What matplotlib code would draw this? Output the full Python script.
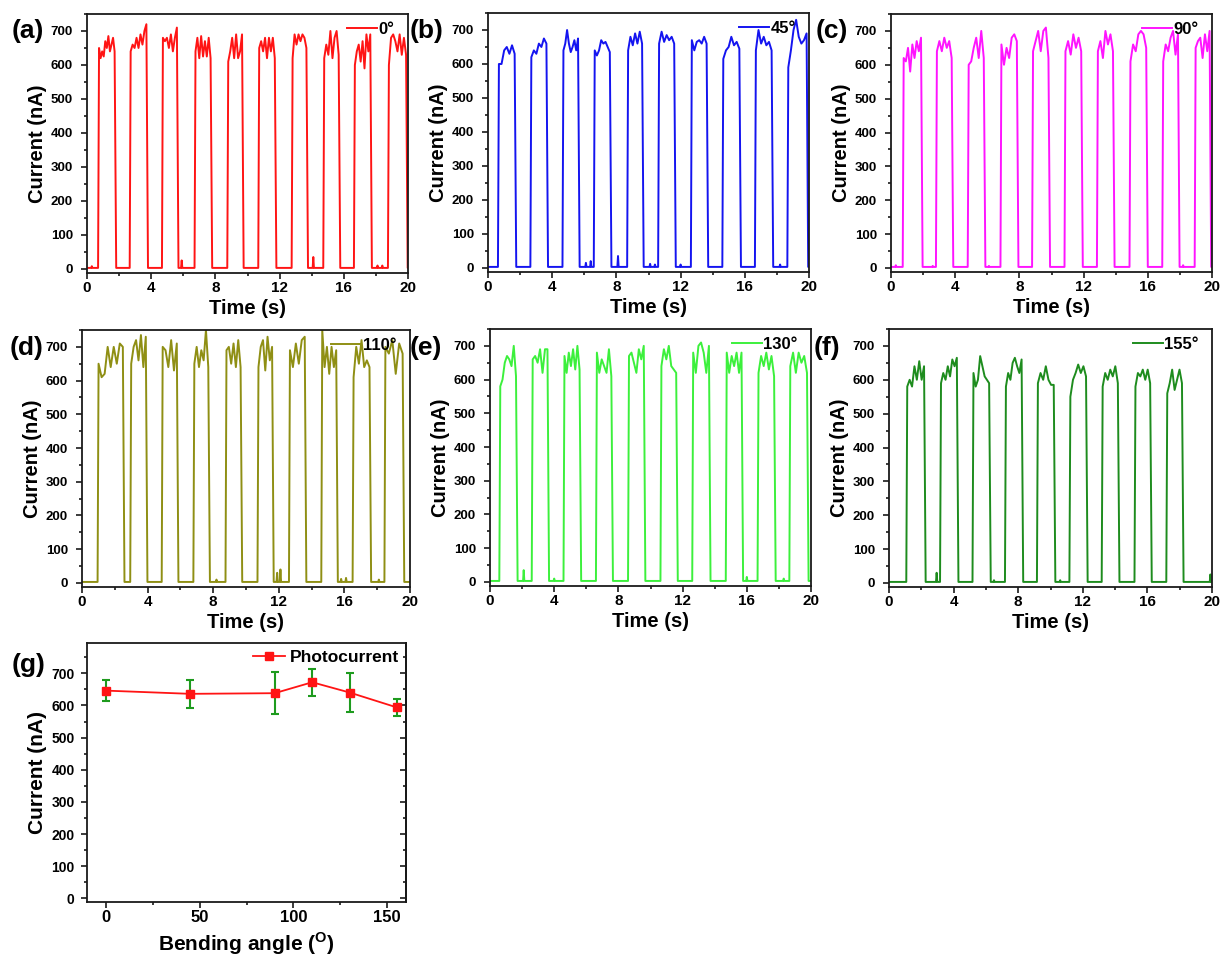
import numpy as np
import matplotlib
matplotlib.use("Agg")
import matplotlib.pyplot as plt
from matplotlib.ticker import MultipleLocator

plt.rcParams['font.family'] = ['Liberation Sans', 'DejaVu Sans']
plt.rcParams['font.weight'] = 'bold'
plt.rcParams['axes.labelweight'] = 'bold'
plt.rcParams['mathtext.fontset'] = 'custom'
plt.rcParams['mathtext.bf'] = 'Liberation Sans:bold'
plt.rcParams['mathtext.rm'] = 'Liberation Sans:bold'

# ---- data ----
# pulse start / end times (s), plateau readings (nA), baseline blips (t, nA)
on_a = [0.69, 2.66, 4.67, 6.70, 8.74, 10.67, 12.75, 14.72, 16.63, 18.75]
off_a = [1.72, 3.70, 5.60, 7.70, 9.66, 11.70, 13.67, 15.68, 17.65, 19.88]
top_a = [[650, 620, 640, 625, 670, 650, 685, 640, 660, 680, 640],
         [640, 660, 650, 680, 650, 690, 660, 700, 720],
         [680, 670, 680, 650, 690, 640, 680, 710],
         [640, 680, 620, 685, 625, 670, 625, 680, 620],
         [610, 640, 680, 620, 690, 620, 640, 690],
         [650, 670, 640, 680, 620, 680, 640, 680, 620],
         [620, 690, 660, 690, 670, 690, 680, 650],
         [620, 660, 630, 700, 620, 680, 700, 630],
         [600, 640, 660, 610, 670, 590, 690, 640, 690],
         [600, 680, 690, 670, 640, 690, 630, 680, 630]]
blip_a = [(0.3, 8), (5.9, 25), (14.1, 35), (18.1, 10), (18.4, 10)]

on_b = [0.62, 2.64, 4.64, 6.59, 8.67, 10.60, 12.64, 14.60, 16.63, 18.65]
off_b = [1.66, 3.64, 5.61, 7.59, 9.60, 11.60, 13.62, 15.66, 17.67, 19.85]
top_b = [[600, 600, 640, 650, 630, 655, 630],
         [620, 640, 630, 660, 650, 675, 660],
         [640, 660, 700, 660, 635, 650, 670, 640, 675],
         [640, 625, 640, 670, 660, 665, 650, 635],
         [640, 680, 655, 690, 660, 695, 660],
         [660, 695, 665, 685, 670, 680, 660],
         [670, 640, 665, 670, 660, 680, 660],
         [615, 640, 650, 680, 655, 665, 645],
         [640, 700, 660, 680, 655, 665, 640],
         [590, 640, 700, 730, 680, 660, 670, 690]]
blip_b = [(6.1, 15), (6.4, 20), (8.1, 35), (10.1, 12), (10.4, 10), (12.0, 10), (18.2, 10)]

on_c = [0.73, 2.80, 4.78, 6.82, 8.79, 10.81, 12.83, 14.86, 16.90, 18.92]
off_c = [1.87, 3.78, 5.78, 7.84, 9.81, 11.85, 13.83, 15.90, 17.88, 19.85]
top_c = [[620, 610, 650, 580, 660, 620, 670, 640, 680],
         [640, 670, 640, 680, 650, 670, 620],
         [600, 610, 650, 680, 620, 700, 620],
         [660, 600, 650, 620, 680, 690, 670],
         [640, 670, 700, 640, 700, 710, 620],
         [640, 670, 630, 690, 650, 680, 640],
         [640, 670, 620, 700, 660, 690, 640],
         [610, 660, 640, 690, 700, 690, 650],
         [610, 660, 640, 680, 700, 630, 690],
         [650, 670, 680, 620, 690, 640, 700]]
blip_c = [(0.3, 8), (2.6, 6), (6.1, 6), (18.2, 8)]

on_d = [0.95, 2.94, 4.86, 6.79, 8.75, 10.70, 12.62, 14.59, 16.50, 18.44]
off_d = [2.49, 3.89, 5.78, 7.70, 9.67, 11.59, 13.58, 15.50, 17.53, 19.55]
top_d = [[650, 610, 620, 700, 640, 700, 650, 710, 700],
         [650, 700, 720, 660, 735, 640, 730],
         [700, 690, 640, 720, 630, 710],
         [650, 700, 640, 690, 660, 750, 640],
         [690, 700, 650, 710, 640, 720, 640],
         [640, 700, 720, 630, 730, 660, 700],
         [690, 640, 710, 650, 720, 730],
         [750, 640, 700, 620, 700, 640, 690],
         [610, 700, 650, 720, 640, 660, 640],
         [700, 680, 720, 620, 710, 680]]
blip_d = [(8.2, 10), (11.9, 30), (12.1, 40), (15.8, 12), (16.1, 15), (18.1, 10)]

on_e = [0.58, 2.60, 4.58, 6.60, 8.60, 10.62, 12.60, 14.69, 16.67, 18.65]
off_e = [1.62, 3.58, 5.58, 7.56, 9.58, 11.60, 13.64, 15.67, 17.70, 19.75]
top_e = [[580, 600, 650, 670, 660, 640, 700, 610],
         [660, 670, 650, 690, 620, 690, 690],
         [670, 620, 680, 640, 690, 630, 700, 630],
         [680, 620, 660, 640, 620, 690, 610],
         [670, 680, 650, 620, 690, 660, 700],
         [640, 690, 660, 700, 640, 630, 620],
         [680, 620, 700, 710, 680, 620, 700],
         [680, 620, 670, 640, 680, 620, 680],
         [620, 670, 640, 680, 630, 670, 610],
         [640, 680, 620, 680, 650, 670, 620]]
blip_e = [(2.1, 35), (4.0, 10), (16.0, 15), (18.3, 10)]

on_f = [1.07, 3.16, 5.17, 7.18, 9.16, 11.17, 13.17, 15.20, 17.17]
off_f = [2.17, 4.20, 6.20, 8.21, 10.20, 12.20, 14.17, 16.17, 18.14]
top_f = [[580, 600, 580, 640, 600, 655, 600, 640],
         [590, 620, 600, 640, 610, 660, 640, 665],
         [620, 580, 600, 670, 640, 610, 600, 590],
         [580, 620, 600, 650, 665, 640, 620, 660],
         [590, 620, 600, 640, 600, 585, 585],
         [550, 600, 620, 645, 620, 640, 610],
         [580, 620, 600, 630, 610, 640, 590],
         [580, 620, 610, 630, 600, 630, 590],
         [560, 590, 630, 570, 600, 630, 590]]
blip_f = [(2.95, 30), (6.5, 8), (10.6, 8), (19.9, 25)]

angles = [0, 45, 90, 110, 130, 155]
photocurrent = [646, 636, 638, 672, 640, 594]
photo_err = [32, 44, 66, 42, 60, 27]

panels = [
    ('(a)', '0°', '#ff1414', on_a, off_a, top_a, blip_a),
    ('(b)', '45°', '#1414f0', on_b, off_b, top_b, blip_b),
    ('(c)', '90°', '#ff14ff', on_c, off_c, top_c, blip_c),
    ('(d)', '110°', '#8f8f14', on_d, off_d, top_d, blip_d),
    ('(e)', '130°', '#3cf03c', on_e, off_e, top_e, blip_e),
    ('(f)', '155°', '#1e8c1e', on_f, off_f, top_f, blip_f),
]

# pixel boxes (left, top, right, bottom) and letter positions
boxes = [(87, 14, 408, 273), (488, 13, 809, 272), (891, 14, 1212, 272),
         (82, 330, 410, 587), (490, 329, 811, 586), (889, 329, 1212, 587)]
letters = [(12, 31), (410, 31), (816, 31), (10, 348), (410, 348), (814, 348)]

W, H = 1224, 956
BASE = 3


def build(on, off, top, blips):
    pts = [(0.0, BASE)]
    for t0, t1, vals in zip(on, off, top):
        pts.append((t0, BASE))
        for tt, vv in zip(np.linspace(t0 + 0.06, t1, len(vals)), vals):
            pts.append((tt, vv))
        pts.append((t1 + 0.1, BASE))
    for bt, bv in blips:
        pts += [(bt - 0.04, BASE), (bt, bv), (bt + 0.04, BASE)]
    pts.append((20.0, BASE))
    pts.sort()
    t, y = zip(*pts)
    return np.array(t), np.array(y)


def add_ax(box):
    l, t, r, b = box
    return fig.add_axes([l / W, 1 - b / H, (r - l) / W, (b - t) / H])


def style(ax):
    for s in ax.spines.values():
        s.set_linewidth(1.3)
        s.set_color('#1a1a1a')
    ax.tick_params(which='both', direction='out', width=1.2, color='#1a1a1a')
    ax.tick_params(which='major', length=4)
    ax.tick_params(which='minor', length=2.5)


fig = plt.figure(figsize=(W / 100, H / 100), dpi=100)

for (lab, leg, col, on, off, top, blips), box, lp in zip(panels, boxes, letters):
    ax = add_ax(box)
    t, y = build(on, off, top, blips)
    ax.plot(t, y, color=col, lw=1.4, label=leg)
    ax.set_xlim(0, 20)
    ax.set_ylim(-12, 750)
    ax.xaxis.set_major_locator(MultipleLocator(4))
    ax.xaxis.set_minor_locator(MultipleLocator(2))
    ax.yaxis.set_major_locator(MultipleLocator(100))
    ax.yaxis.set_minor_locator(MultipleLocator(50))
    style(ax)
    ax.tick_params(axis='y', labelsize=9.5, pad=6)
    ax.tick_params(axis='x', labelsize=11, pad=1.5)
    ax.set_xlabel('Time (s)', fontsize=14.5, labelpad=3)
    ax.set_ylabel('Current (nA)', fontsize=14.5, labelpad=3)
    ax.legend(loc='upper right', bbox_to_anchor=(1, 1.02), frameon=False,
              handlelength=1.8, handletextpad=0.1, borderaxespad=0.6, borderpad=0.2,
              prop={'weight': 'bold', 'size': 12})
    fig.text(lp[0] / W, 1 - lp[1] / H, lab, fontsize=19, fontweight='bold',
             ha='left', va='center')

# ---- panel (g) ----
ax = add_ax((87, 643, 406, 902))
ax.errorbar(angles, photocurrent, yerr=photo_err, fmt='none', ecolor='#1e9b1e',
            elinewidth=1.5, capsize=3, capthick=1.5, zorder=2)
ax.plot(angles, photocurrent, color='#ff1414', lw=1.3, marker='s', ms=6,
        label='Photocurrent', zorder=3)
ax.set_xlim(-10, 160)
ax.set_ylim(-11, 794)
ax.xaxis.set_major_locator(MultipleLocator(50))
ax.xaxis.set_minor_locator(MultipleLocator(25))
ax.yaxis.set_major_locator(MultipleLocator(100))
ax.yaxis.set_minor_locator(MultipleLocator(50))
style(ax)
ax.tick_params(axis='y', labelsize=10, pad=5)
ax.tick_params(axis='x', labelsize=12, pad=2)
# inward ticks on the right side
rax = ax.secondary_yaxis('right')
rax.yaxis.set_major_locator(MultipleLocator(100))
rax.yaxis.set_minor_locator(MultipleLocator(50))
rax.tick_params(which='both', direction='in', width=1.2, color='#1a1a1a', labelright=False)
rax.tick_params(which='major', length=4)
rax.tick_params(which='minor', length=2.5)
rax.spines['right'].set_linewidth(1.3)
ax.set_xlabel(r'Bending angle ($^{\mathbf{O}}$)', fontsize=15, labelpad=4)
ax.set_ylabel('Current (nA)', fontsize=15, labelpad=3)
ax.legend(loc='upper right', frameon=False, handlelength=1.8, handletextpad=0.3,
          borderaxespad=0.1, borderpad=0.3, prop={'weight': 'bold', 'size': 12.5})
fig.text(12 / W, 1 - 665 / H, '(g)', fontsize=19, fontweight='bold', ha='left', va='center')

fig.savefig('out.png', dpi=100)
